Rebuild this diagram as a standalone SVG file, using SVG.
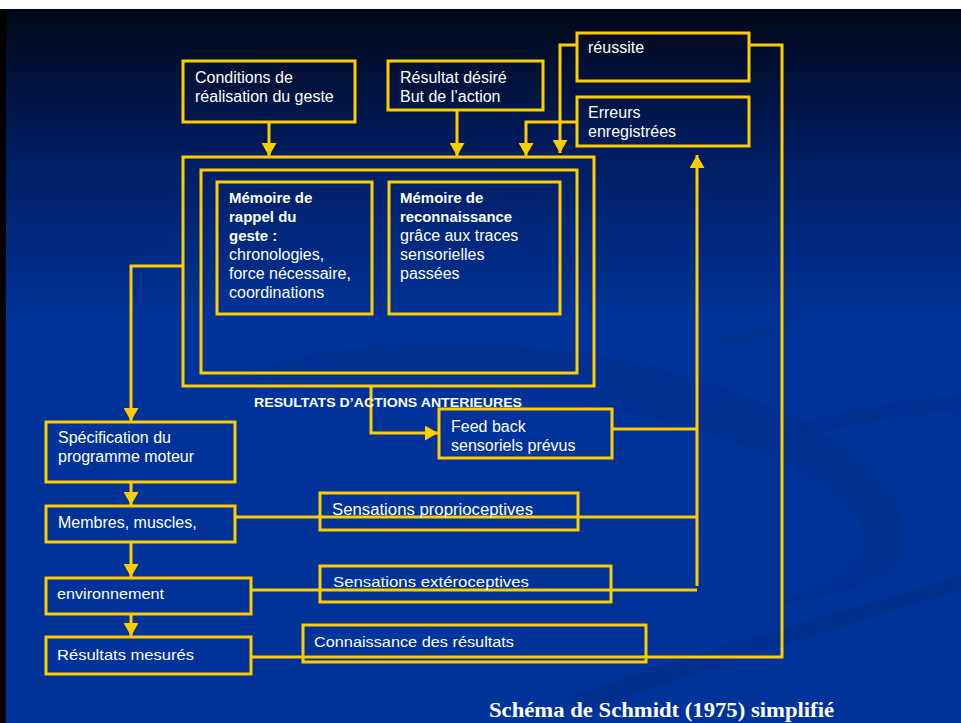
<svg xmlns="http://www.w3.org/2000/svg" width="961" height="723" viewBox="0 0 961 723">
<defs>
<linearGradient id="bg" x1="0" y1="9" x2="0" y2="320" gradientUnits="userSpaceOnUse">
<stop offset="0" stop-color="#010818"/>
<stop offset="0.45" stop-color="#001c5e"/>
<stop offset="1" stop-color="#003399"/>
</linearGradient>
<marker id="ah" markerUnits="userSpaceOnUse" markerWidth="13" markerHeight="15" refX="13" refY="7.5" orient="auto">
<path d="M0,0 L13,7.5 L0,15 z" fill="#FFCC00"/>
</marker>
<style>
.box{fill:none;stroke:#FFCC00;stroke-width:3}
.ln{fill:none;stroke:#FFCC00;stroke-width:3}
.arr{fill:none;stroke:#FFCC00;stroke-width:3;marker-end:url(#ah)}
text{font-family:"Liberation Sans",Arial,sans-serif;font-size:16px;fill:#FFFFFF}
.b{font-weight:bold;font-size:15px}
.sm{font-size:15.5px}
.sw{fill:#00308f}
</style>
</defs>
<rect x="0" y="0" width="961" height="723" fill="#FFFFFF"/>
<rect x="0" y="9" width="961" height="714" fill="#000000"/>
<rect x="6" y="9" width="955" height="714" fill="url(#bg)"/>
<g id="swirls">
<path class="sw" d="M230,380 C330,330 600,320 800,420 C880,460 920,520 900,560 C880,590 800,600 760,610 C830,585 880,560 860,520 C830,470 700,420 560,400 C420,380 300,390 230,380 z" opacity="0.7"/>
<path class="sw" d="M560,700 C700,650 850,610 961,575 L961,590 C860,620 720,665 590,710 z"/>
<path class="sw" d="M780,430 C840,410 900,400 961,395 L961,410 C900,415 840,425 780,445 z" opacity="0.8"/>
<path class="sw" d="M720,335 C760,330 790,320 800,305 C800,330 770,345 720,345 z" opacity="0.6"/>
</g>
<g id="connectors">
<path class="arr" d="M269,122 V156"/>
<path class="arr" d="M457,110 V156"/>
<path class="arr" d="M577,45 H560 V153"/>
<path class="arr" d="M577,122 H526 V156"/>
<path class="arr" d="M183,266 H131 V421"/>
<path class="arr" d="M131,482 V505"/>
<path class="arr" d="M131,542 V577"/>
<path class="arr" d="M131,614 V636"/>
<path class="arr" d="M371,386 V433 H438"/>
<path class="ln" d="M612,429 H697"/>
<path class="ln" d="M235,517 H697"/>
<path class="ln" d="M251,590 H697"/>
<path class="arr" d="M697,586 V155"/>
<path class="ln" d="M251,657 H782 V45 H749"/>
</g>
<g id="conditions">
<rect class="box" x="183" y="61" width="172" height="61"/>
<text x="195" y="83">Conditions de</text>
<text x="195" y="102">réalisation du geste</text>
</g>
<g id="resultat-desire">
<rect class="box" x="388" y="61" width="155" height="49"/>
<text x="400" y="83">Résultat désiré</text>
<text x="400" y="102">But de l’action</text>
</g>
<g id="reussite">
<rect class="box" x="577" y="33" width="172" height="48"/>
<text x="588" y="53">réussite</text>
</g>
<g id="erreurs">
<rect class="box" x="577" y="97" width="172" height="49"/>
<text x="588" y="118">Erreurs</text>
<text x="588" y="137">enregistrées</text>
</g>
<g id="outer">
<rect class="box" x="183" y="157" width="411" height="229"/>
<rect class="box" x="201" y="170" width="376" height="203"/>
</g>
<g id="memoire-rappel">
<rect class="box" x="217" y="182" width="155" height="132"/>
<text x="229" y="203" class="b">Mémoire de</text>
<text x="229" y="222" class="b">rappel du</text>
<text x="229" y="241" class="b">geste :</text>
<text x="229" y="260">chronologies,</text>
<text x="229" y="279">force nécessaire,</text>
<text x="229" y="298">coordinations</text>
</g>
<g id="memoire-reconnaissance">
<rect class="box" x="389" y="182" width="171" height="132"/>
<text x="400" y="203" class="b">Mémoire de</text>
<text x="400" y="222" class="b" textLength="112" lengthAdjust="spacingAndGlyphs">reconnaissance</text>
<text x="400" y="241">grâce aux traces</text>
<text x="400" y="260">sensorielles</text>
<text x="400" y="279">passées</text>
</g>
<g id="resultats-anterieures">
<text x="254" y="407" style="font-weight:bold;font-size:12.5px" textLength="268" lengthAdjust="spacingAndGlyphs">RESULTATS D’ACTIONS ANTERIEURES</text>
</g>
<g id="feedback">
<rect class="box" x="439" y="409" width="173" height="49"/>
<text x="451" y="432">Feed back</text>
<text x="451" y="451">sensoriels prévus</text>
</g>
<g id="specification">
<rect class="box" x="46" y="422" width="189" height="60"/>
<text x="58" y="443">Spécification du</text>
<text x="58" y="462">programme moteur</text>
</g>
<g id="membres">
<rect class="box" x="46" y="506" width="189" height="36"/>
<text x="58" y="528">Membres, muscles,</text>
</g>
<g id="proprio">
<rect class="box" x="320" y="493" width="258" height="37"/>
<text x="332" y="515" textLength="201" lengthAdjust="spacingAndGlyphs">Sensations proprioceptives</text>
</g>
<g id="environnement">
<rect class="box" x="46" y="578" width="205" height="36"/>
<text x="57" y="599" class="sm" textLength="107" lengthAdjust="spacingAndGlyphs">environnement</text>
</g>
<g id="extero">
<rect class="box" x="320" y="566" width="291" height="36"/>
<text x="333" y="587" class="sm" textLength="196" lengthAdjust="spacingAndGlyphs">Sensations extéroceptives</text>
</g>
<g id="resultats-mesures">
<rect class="box" x="46" y="637" width="205" height="37"/>
<text x="57" y="660" class="sm" textLength="137" lengthAdjust="spacingAndGlyphs">Résultats mesurés</text>
</g>
<g id="connaissance">
<rect class="box" x="303" y="625" width="343" height="37"/>
<text x="314" y="647" class="sm" textLength="200" lengthAdjust="spacingAndGlyphs">Connaissance des résultats</text>
</g>
<text x="489" y="717" style="font-family:'Liberation Serif','Times New Roman',serif;font-weight:bold;font-size:20px" textLength="345" lengthAdjust="spacingAndGlyphs">Schéma de Schmidt (1975) simplifié</text>
</svg>
